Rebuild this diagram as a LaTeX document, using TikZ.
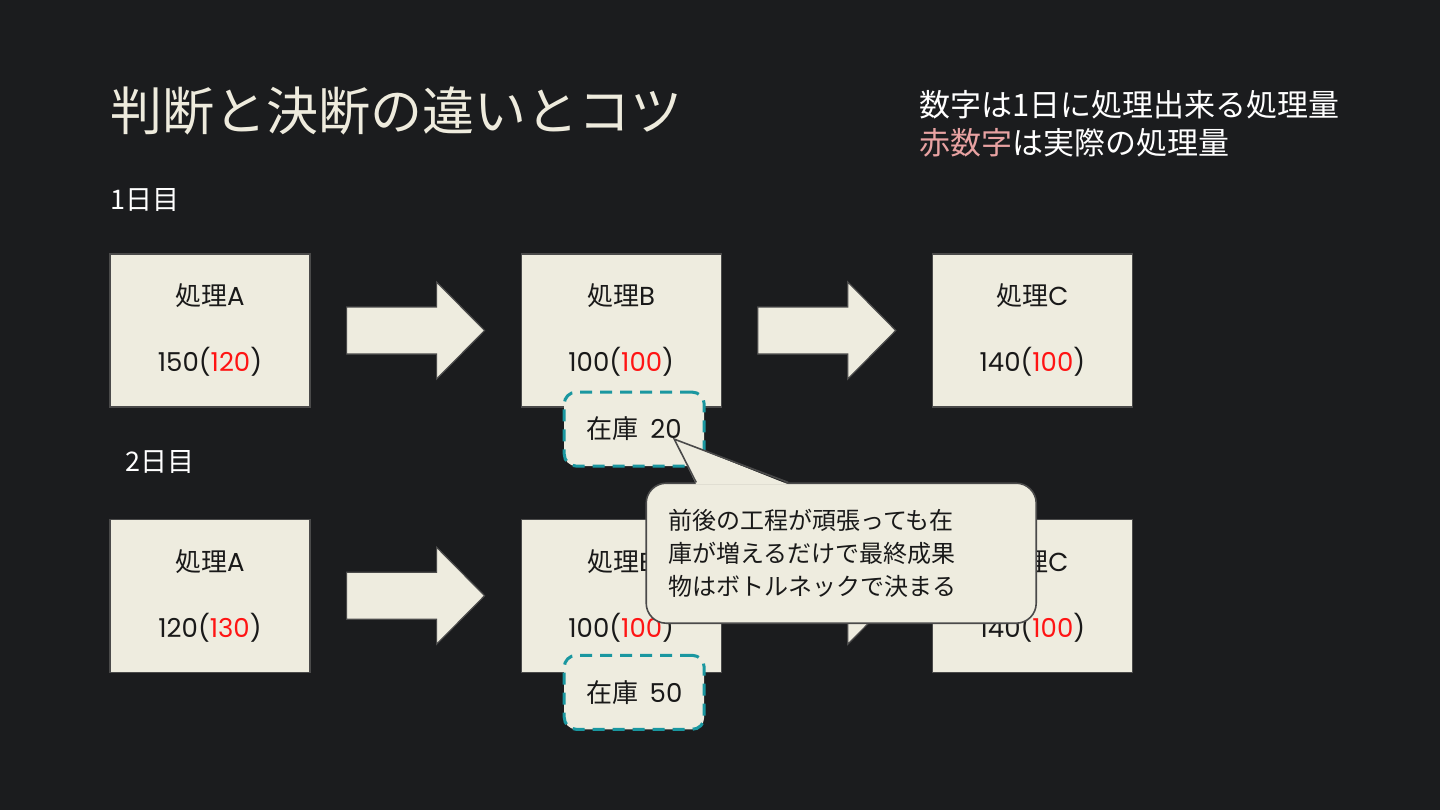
\documentclass[tikz,border=0pt]{standalone}
\usepackage{fontspec}
\setmainfont{Noto Sans CJK JP}
\newfontfamily\latinfont{Poppins}
\newcommand\latn[1]{{\latinfont #1}}
\usetikzlibrary{calc,positioning}

\definecolor{bg}{HTML}{1B1C1E}
\definecolor{paper}{HTML}{EEECDF}
\definecolor{edge}{HTML}{4A4A4A}
\definecolor{stockline}{HTML}{1A97A0}
\definecolor{num}{HTML}{FF1414}
\definecolor{pinknum}{HTML}{E8A2A2}
\definecolor{cream}{HTML}{EEEBDD}

\tikzset{
  proc/.style={draw=edge, line width=0.6pt, fill=paper, minimum width=100pt, minimum height=76.5pt,
    align=center, text=black!90, font=\fontsize{13pt}{33pt}\selectfont},
  stock/.style={draw=stockline, line width=1.5pt, dash pattern=on 6pt off 4pt, rounded corners=6pt,
    fill=paper, minimum width=70pt, minimum height=37pt, text=black!90, font=\fontsize{13pt}{15pt}\selectfont},
  flow/.style={draw=edge, line width=0.6pt, fill=paper},
  memo/.style={draw=edge, line width=0.8pt, fill=paper, rounded corners=10pt, minimum width=195pt,
    minimum height=70pt, inner xsep=11pt, text width=173pt, align=left, text=black!90,
    font=\fontsize{12pt}{16.5pt}\selectfont},
  day/.style={anchor=west, inner sep=0pt, text=white, font=\fontsize{13.5pt}{15pt}\selectfont}
}

% block arrow between two boxes
\newcommand\flowarrow[2]{%
  \draw[flow] ($(#1.east)!.5!(#2.west)$) ++(-34.5pt,11.75pt) -- ++(45pt,0) -- ++(0,12.5pt)
    -- ++(24pt,-24.25pt) -- ++(-24pt,-24.25pt) -- ++(0,12.5pt) -- ++(-45pt,0) -- cycle;}

\begin{document}
\begin{tikzpicture}
  \fill[bg] (0,0) rectangle (720pt,-405pt);

  \node[anchor=west, inner sep=0pt, text=cream, font=\fontsize{26pt}{30pt}\selectfont] (title) at (55pt,-55.5pt) {判断と決断の違いとコツ};
  \node[anchor=west, inner sep=0pt, align=left, text=white, font=\fontsize{15.5pt}{19pt}\selectfont] (legend) at (459.5pt,-62pt)
    {数字は1日に処理出来る処理量\\\textcolor{pinknum}{赤数字}は実際の処理量};

  % day 1
  \node[day] (day1) at (55pt,-100pt) {1日目};
  \node[proc] (a1) at (105pt,-165.25pt) {処理\latn{A}\\\latn{150(\textcolor{num}{120})}};
  \node[proc, right=105pt of a1] (b1) {処理\latn{B}\\\latn{100(\textcolor{num}{100})}};
  \node[proc, right=105pt of b1] (c1) {処理\latn{C}\\\latn{140(\textcolor{num}{100})}};
  \flowarrow{a1}{b1}
  \flowarrow{b1}{c1}

  % day 2
  \node[day] (day2) at (62.5pt,-231pt) {2日目};
  \node[proc, below=55.5pt of a1] (a2) {処理\latn{A}\\\latn{120(\textcolor{num}{130})}};
  \node[proc, right=105pt of a2] (b2) {処理\latn{B}\\\latn{100(\textcolor{num}{100})}};
  \node[proc, right=105pt of b2] (c2) {処理\latn{C}\\\latn{140(\textcolor{num}{100})}};
  \flowarrow{a2}{b2}
  \flowarrow{b2}{c2}

  % stock
  \node[stock, below=-8.5pt of b1, xshift=6.5pt] (z1) {在庫\hspace{0.45em}\latn{20}};
  \node[stock, below=-9.5pt of b2, xshift=6.5pt] (z2) {在庫\hspace{0.45em}\latn{50}};

  % callout
  \coordinate (tip) at ($(z1.center)+(20pt,-5pt)$);
  \node[memo] (note) at ($(b2.center)+(110pt,21.25pt)$)
    {前後の工程が頑張っても在\\庫が増えるだけで最終成果\\物はボトルネックで決まる};
  \coordinate (p1) at ($(note.north)+(-72.5pt,0)$);
  \coordinate (p2) at ($(note.north)+(-26.5pt,0)$);
  \fill[paper] ($(p1)+(0,-1pt)$) -- (tip) -- ($(p2)+(0,-1pt)$) -- cycle;
  \draw[edge, line width=0.8pt, line join=miter] (p1) -- (tip) -- (p2);
\end{tikzpicture}
\end{document}
